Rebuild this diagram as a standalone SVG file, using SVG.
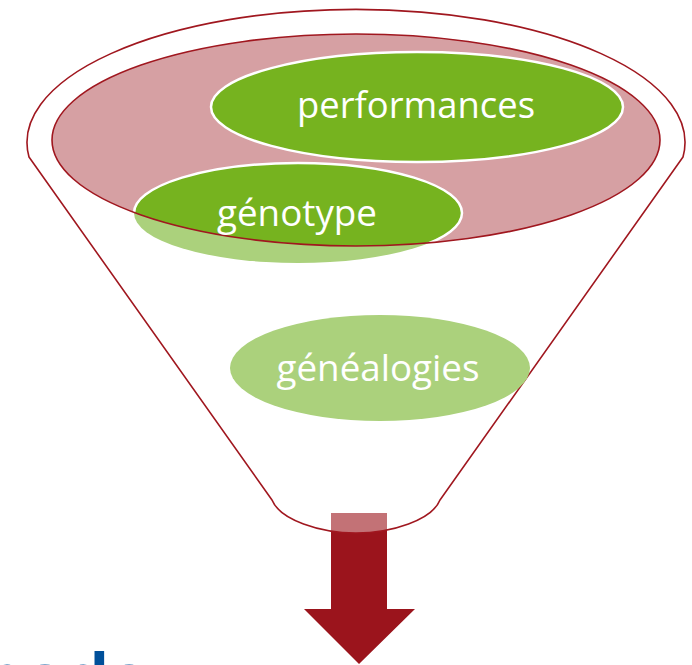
<svg xmlns="http://www.w3.org/2000/svg" width="692" height="665" viewBox="0 0 692 665">
  <style>
    .lbl { font-family: "Open Sans", "Liberation Sans", sans-serif; font-size: 36px; fill: #ffffff; text-anchor: middle; }
    .outline { fill: none; stroke: #A0171F; stroke-width: 1.6; }
    .dark { fill: #76B31F; }
    .light { fill: #ABD17C; }
  </style>
  <defs>
    <clipPath id="redClip">
      <ellipse cx="356" cy="140" rx="304" ry="106"/>
    </clipPath>
  </defs>
  <rect width="692" height="665" fill="#ffffff"/>

  <g id="connectors">
    <polygon points="331,513 387,513 387,609 415,609 359,664 304,609 331,609" fill="#9B141C"/>
  </g>

  <g id="funnel">
    <path d="M29,157 L272,500 C280,520 320,533 356,533 C392,533 432,520 440,500 L683,157 A329 133 0 1 0 29,157 Z" fill="#ffffff" fill-opacity="0.4" stroke="#A0171F" stroke-width="1.6" stroke-linejoin="round"/>
    <ellipse cx="356" cy="140" rx="304" ry="106" fill="#D6A0A3"/>
  </g>

  <g id="node-genotype">
    <ellipse class="light" cx="298" cy="213" rx="164" ry="50"/>
    <ellipse class="dark" cx="298" cy="213" rx="164" ry="50" stroke="#ffffff" stroke-width="2.5" clip-path="url(#redClip)"/>
  </g>

  <ellipse id="funnel-rim" class="outline" cx="356" cy="140" rx="304" ry="106"/>

  <g id="node-performances">
    <ellipse class="dark" cx="417" cy="107" rx="206" ry="55" stroke="#ffffff" stroke-width="2.5"/>
    <text class="lbl" x="416" y="118" textLength="238" lengthAdjust="spacingAndGlyphs">performances</text>
  </g>

  <g id="node-genotype-label">
    <text class="lbl" x="297" y="226" textLength="160" lengthAdjust="spacingAndGlyphs">génotype</text>
  </g>

  <g id="node-genealogies">
    <ellipse class="light" cx="380" cy="368" rx="150" ry="53"/>
    <text class="lbl" x="378" y="381" textLength="203" lengthAdjust="spacingAndGlyphs">généalogies</text>
  </g>

  <text x="148" y="702" text-anchor="end" font-family="'Liberation Sans', Arial, sans-serif" font-weight="bold" font-size="70" fill="#00509A">Méthode</text>
</svg>
